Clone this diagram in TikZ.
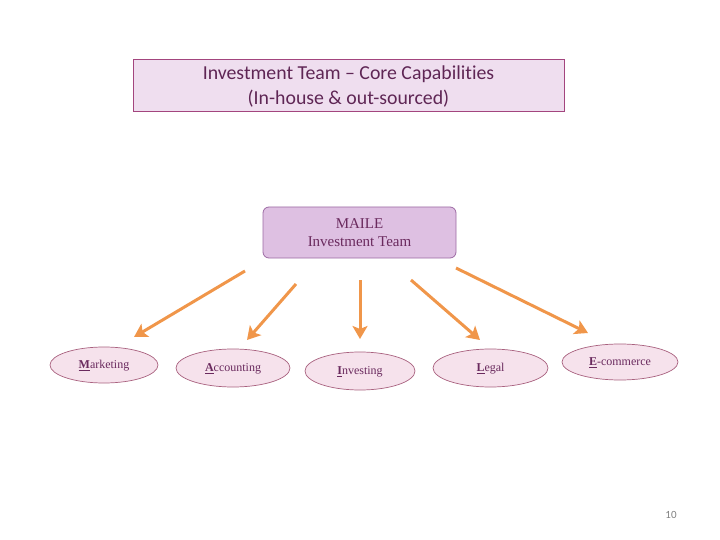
\documentclass[tikz,border=0pt]{standalone}
\usepackage{fontspec}
\setmainfont{Carlito}[Ligatures={NoCommon,TeX}]
\newfontfamily\capfont{Liberation Serif}
\usetikzlibrary{arrows.meta, shapes.geometric}
\definecolor{titlefill}{HTML}{EFDEEF}
\definecolor{titleline}{HTML}{A3457E}
\definecolor{teamfill}{HTML}{DEC0E2}
\definecolor{teamline}{HTML}{9C6AA3}
\definecolor{capfill}{HTML}{F6E2EC}
\definecolor{capline}{HTML}{A8607E}
\definecolor{captext}{HTML}{6A2A5E}
\definecolor{linkorange}{HTML}{F0964A}
\begin{document}
\begin{tikzpicture}[x=1pt, y=-1pt,
  capnode/.style={ellipse, draw=capline, fill=capfill, line width=0.7pt, inner sep=0pt,
    text=captext, text depth=1pt, font=\capfont\fontsize{12}{14}\selectfont},
  link/.style={draw=linkorange, line width=3pt, -{Stealth[length=13pt, width=15pt, inset=3pt]}}]
%% page: 720 x 540 px, y grows downward
\useasboundingbox (0,0) rectangle (720,540);

%% ---- Title box ----
\node[draw=titleline, fill=titlefill, line width=0.8pt, minimum width=431pt, minimum height=50pt,
  align=center, text=captext!90!black, font=\fontsize{19.8}{25}\selectfont] (title) at (348.5,85)
  {\strut Investment Team -- Core Capabilities\\(In-house \& out-sourced)};

%% ---- Team box ----
\node[draw=teamline, fill=teamfill, rounded corners=6pt, line width=0.8pt,
  minimum width=193pt, minimum height=51pt, align=center, text=captext,
  font=\capfont\fontsize{15}{18}\selectfont] (maile) at (359.5,232.5)
  {MAILE\\Investment Team};

%% ---- Capabilities ----
\node[capnode, minimum width=108pt, minimum height=36pt] (mkt) at (104,365)
  {\underline{\textbf{M}}arketing};
\node[capnode, minimum width=114pt, minimum height=38pt] (acc) at (233,368)
  {\underline{\textbf{A}}ccounting};
\node[capnode, minimum width=110pt, minimum height=38pt] (inv) at (360,371)
  {\underline{\textbf{I}}nvesting};
\node[capnode, minimum width=115pt, minimum height=38pt] (leg) at (490.5,368)
  {\underline{\textbf{L}}egal};
\node[capnode, minimum width=116pt, minimum height=36pt] (ecom) at (620,362)
  {\underline{\textbf{E}}-commerce};

%% ---- Arrow ends (arrows float between the boxes) ----
\coordinate (s1) at (245,271); \coordinate (e1) at (134,337);
\coordinate (s2) at (296,284); \coordinate (e2) at (247,340);
\coordinate (s3) at (360,280); \coordinate (e3) at (360,339);
\coordinate (s4) at (411,280); \coordinate (e4) at (480,340);
\coordinate (s5) at (456,268); \coordinate (e5) at (588,333);
\foreach \k in {1,...,5} {
  \draw[link] (s\k) -- (e\k);
}

%% ---- Page number ----
\node[font=\fontsize{11}{12}\selectfont, text=gray] (pg) at (671,515) {10};
\end{tikzpicture}
\end{document}
